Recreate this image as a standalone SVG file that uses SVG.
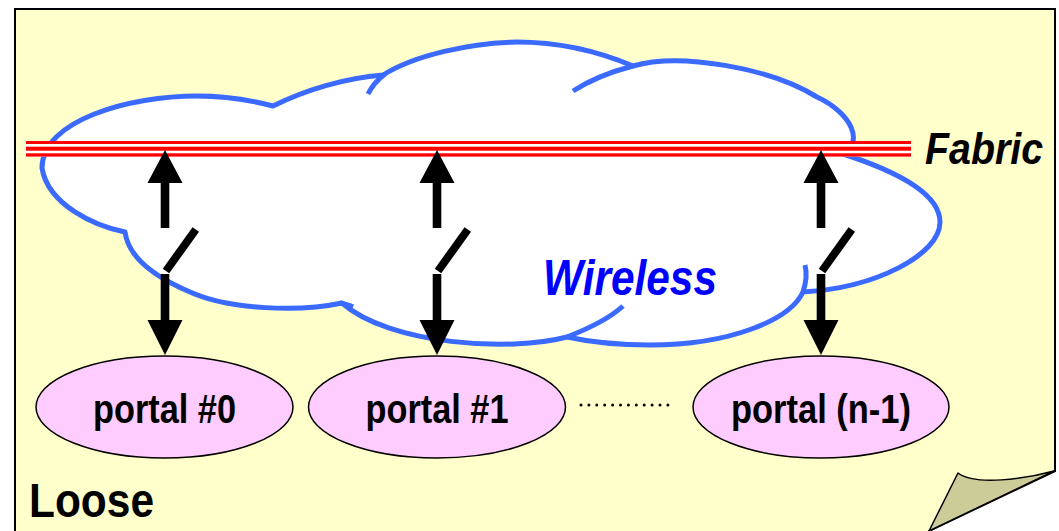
<svg xmlns="http://www.w3.org/2000/svg" xmlns:xlink="http://www.w3.org/1999/xlink" width="1059" height="531" viewBox="0 0 1059 531">
  <style>
    .page { fill: #FFFFCC; stroke: #000; stroke-width: 2; }
    .fold { fill: #CCCC99; stroke: #000; stroke-width: 1.5; stroke-linejoin: round; }
    .cloud { fill: #FFFFFF; stroke: #3A6AFF; stroke-width: 5; stroke-linejoin: round; }
    .tail { fill: none; stroke: #3A6AFF; stroke-width: 5; stroke-linecap: butt; }
    .fabric { fill: #FF0000; }
    .gap { fill: #FFFFFF; }
    .portal ellipse { fill: #FFCCFF; stroke: #000; stroke-width: 1.5; }
    .lbl { font-family: "Liberation Sans", Arial, sans-serif; font-weight: bold; fill: #000; }
    .mid { text-anchor: middle; }
    .arrow { fill: #000; }
    .lever { stroke: #000; stroke-width: 8; stroke-linecap: butt; }
    .dots { stroke: #000; stroke-width: 3; stroke-linecap: round; stroke-dasharray: 0 7.9; }
  </style>
  <defs>
    <!-- switched link: arrow up to the fabric, open switch, arrow down to the portal -->
    <g id="switch-link">
      <polygon class="arrow" points="0,150 -17.5,183 17.5,183"/>
      <rect class="arrow" x="-4.3" y="182" width="8.6" height="46"/>
      <line class="lever" x1="1" y1="271" x2="30.8" y2="229.5"/>
      <rect class="arrow" x="-4.3" y="274" width="8.6" height="47"/>
      <polygon class="arrow" points="-17.5,320 17.5,320 0,355"/>
    </g>
  </defs>

  <!-- note page with curled corner -->
  <g id="page">
    <path class="page" d="M15,545 V9 H1055 V471 L929,531 L925,545 Z"/>
    <path class="fold" d="M958,473 C975,486 1025,479 1054,471 L929,531 Z"/>
  </g>

  <!-- wireless cloud -->
  <g id="cloud">
    <path class="cloud" d="M125,232
      C95,226 48,205 42,168
      C42,120 130,96 197,96
      C225,96 250,100 273,106
      C305,90 345,78 383,75
      C415,55 470,43 517,42
      C560,42 600,52 633,66
      C680,52 770,68 817,97
      C852,113 866,145 840,153
      C900,172 940,195 940,222
      C940,255 875,288 803,292
      C790,320 730,345 650,345
      C615,345 590,342 567,337
      C510,352 390,345 342,303
      C300,312 230,310 190,292
      C150,275 128,255 125,232 Z"/>
    <path class="tail" d="M368,94 C372,86 377,80 385,74"/>
    <path class="tail" d="M573,91 C590,80 610,72 633,66"/>
    <path class="tail" d="M803,292 C806,283 807,273 805,265"/>
    <path class="tail" d="M567,337 C590,328 610,318 623,306"/>
    <path class="tail" d="M340,303 C345,304 349,305 353,307"/>
    <text class="lbl" x="543" y="295" font-size="50" font-style="italic" style="fill:#0000FF" textLength="174" lengthAdjust="spacingAndGlyphs">Wireless</text>
  </g>

  <!-- fabric bus -->
  <g id="fabric">
    <rect class="gap" x="26" y="141" width="885" height="15.6"/>
    <rect class="fabric" x="26" y="141" width="885" height="3"/>
    <rect class="fabric" x="26" y="146.7" width="885" height="4"/>
    <rect class="fabric" x="26" y="153.3" width="885" height="3.3"/>
    <text class="lbl" x="925" y="164" font-size="44" font-style="italic" textLength="118" lengthAdjust="spacingAndGlyphs">Fabric</text>
  </g>

  <!-- connectors -->
  <g id="connectors">
    <use xlink:href="#switch-link" href="#switch-link" x="165"/>
    <use xlink:href="#switch-link" href="#switch-link" x="437"/>
    <use xlink:href="#switch-link" href="#switch-link" x="821"/>
    <line class="dots" x1="581" y1="405" x2="669" y2="405"/>
  </g>

  <!-- portals -->
  <g id="portal0" class="portal">
    <ellipse cx="164.5" cy="407" rx="128.5" ry="51"/>
    <text class="lbl mid" x="164.5" y="423" font-size="40" textLength="143" lengthAdjust="spacingAndGlyphs">portal #0</text>
  </g>
  <g id="portal1" class="portal">
    <ellipse cx="437" cy="407" rx="128.5" ry="51"/>
    <text class="lbl mid" x="437" y="423" font-size="40" textLength="143" lengthAdjust="spacingAndGlyphs">portal #1</text>
  </g>
  <g id="portalN" class="portal">
    <ellipse cx="821" cy="407" rx="128" ry="51"/>
    <text class="lbl mid" x="821" y="423" font-size="40" textLength="180" lengthAdjust="spacingAndGlyphs">portal (n-1)</text>
  </g>

  <!-- page title -->
  <g id="title">
    <text class="lbl" x="29" y="517" font-size="48" textLength="125" lengthAdjust="spacingAndGlyphs">Loose</text>
  </g>
</svg>
